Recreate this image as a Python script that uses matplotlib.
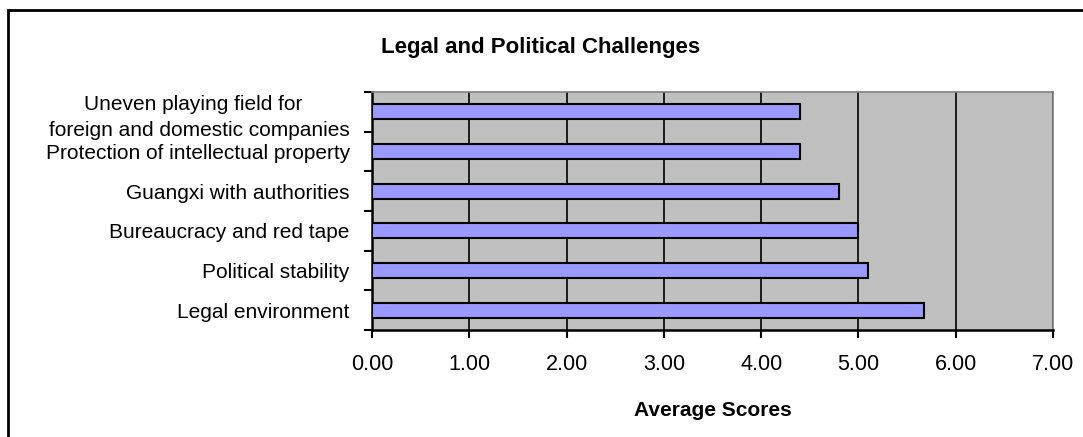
import numpy as np
import matplotlib.pyplot as plt
from matplotlib.patches import Rectangle

plt.rcParams['font.family'] = ['Liberation Sans', 'DejaVu Sans']

# bottom to top, as drawn
categories = [
    'Legal environment',
    'Political stability',
    'Bureaucracy and red tape',
    'Guangxi with authorities',
    'Protection of intellectual property',
    'Uneven playing field for  \nforeign and domestic companies',
]
scores = [5.67, 5.10, 5.00, 4.80, 4.40, 4.40]
xticks = [0, 1, 2, 3, 4, 5, 6, 7]

fig = plt.figure(figsize=(10.83, 4.37), dpi=100)
ax = fig.add_axes([372 / 1083, 1 - 330 / 437, (1053 - 372) / 1083, (330 - 92) / 437])

ypos = np.arange(len(categories))
ax.barh(ypos, scores, height=0.38, color='#9999FF', edgecolor='black',
        linewidth=1.5, zorder=3)

ax.set_facecolor('#C0C0C0')
ax.set_xlim(0, 7)
ax.set_ylim(-0.5, len(categories) - 0.5)
ax.set_xticks(xticks)
ax.set_xticklabels(['%.2f' % t for t in xticks], fontsize=15.5)
ax.xaxis.grid(True, color='black', linewidth=1.2, zorder=1)
ax.set_axisbelow(True)

# category labels sit between the boundary ticks
ax.set_yticks(ypos)
ax.set_yticklabels(categories, fontsize=15, multialignment='center',
                   linespacing=1.45)
ax.tick_params(axis='y', length=0, pad=16)
ax.set_yticks(np.arange(len(categories) + 1) - 0.5, minor=True)
ax.tick_params(axis='y', which='minor', length=6, width=1.5, direction='out')
ax.tick_params(axis='x', length=6, width=1.5, direction='out', pad=11)

for side in ['top', 'right']:
    ax.spines[side].set_color('#808080')
    ax.spines[side].set_linewidth(1.2)
for side in ['left', 'bottom']:
    ax.spines[side].set_color('black')
    ax.spines[side].set_linewidth(1.8)

ax.set_xlabel('Average Scores', fontsize=15, fontweight='bold', labelpad=19)
fig.text(0.499, 1 - 47 / 437, 'Legal and Political Challenges', fontsize=16,
         fontweight='bold', ha='center', va='center')

# chart frame
fig.patches.append(Rectangle((8 / 1083, -0.05), 1.1, 1 - 10 / 437 + 0.05,
                             transform=fig.transFigure, fill=False,
                             edgecolor='black', linewidth=2))

fig.savefig('out.png', dpi=100)
